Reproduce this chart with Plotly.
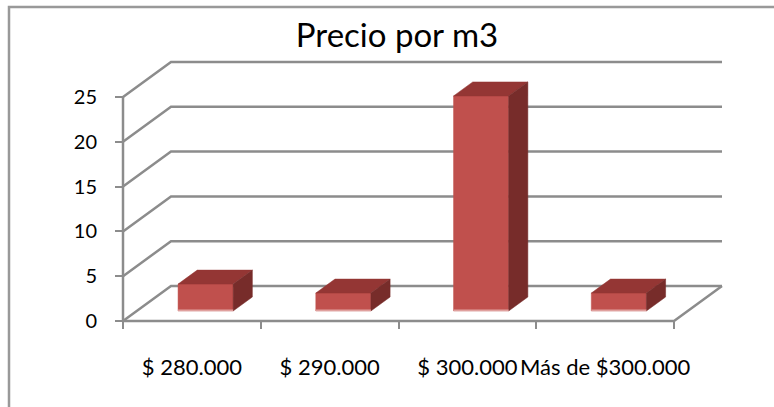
import plotly.graph_objects as go

# ---- data ----
categories = ["$ 280.000", "$ 290.000", "$ 300.000", "Más de $300.000"]
values = [3, 2, 24, 2]
y_ticks = [0, 5, 10, 15, 20, 25]
title_text = "Precio por m3"

# ---- style / projection constants ----
W, H = 774, 407
PX_X = 137.75          # px per category
PX_Y = 8.96            # px per value unit
X0_PX, Y0_PX = 123, 321
DX = 48 / PX_X         # depth offset (category units)
DY = 35 / PX_Y         # depth offset (value units)
F0, F1 = 0.286, 0.686  # bar front/back depth fractions
BW = 0.4               # bar width (category units)
GRID = "#8c8c8c"
FRONT, TOP, SIDE, EDGE = "#C0504D", "#943634", "#772C2A", "#E0A09E"
FONT = "Lato"

n = len(categories)
xl, xr = -0.5, n - 0.5
ymax = y_ticks[-1]

fig = go.Figure()

def line(xs, ys, color=GRID, width=2.5):
    fig.add_trace(go.Scatter(x=xs, y=ys, mode="lines", hoverinfo="skip",
                             line=dict(color=color, width=width), showlegend=False))

def poly(xs, ys, color):
    fig.add_trace(go.Scatter(x=xs + [xs[0]], y=ys + [ys[0]], mode="lines", fill="toself",
                             fillcolor=color, line=dict(color=color, width=0.5),
                             hoverinfo="skip", showlegend=False))

# side-wall diagonals and back-wall gridlines
for v in y_ticks:
    line([xl, xl + DX, xr + DX], [v, v + DY, v + DY])
# floor edges
line([xl, xr, xr + DX], [0, 0, DY])
# front vertical axis
line([xl, xl], [0, ymax])

# bars
for i, v in enumerate(values):
    fx0 = i - BW / 2 + F0 * DX
    fx1 = i + BW / 2 + F0 * DX
    by = F0 * DY
    ddx = (F1 - F0) * DX
    ddy = (F1 - F0) * DY
    # front face
    poly([fx0, fx1, fx1, fx0], [by, by, by + v, by + v], FRONT)
    # top face
    poly([fx0, fx1, fx1 + ddx, fx0 + ddx], [by + v, by + v, by + v + ddy, by + v + ddy], TOP)
    # side face
    poly([fx1, fx1 + ddx, fx1 + ddx, fx1], [by, by + ddy, by + v + ddy, by + v], SIDE)
    # light bottom edge
    line([fx0, fx1], [by + 0.08, by + 0.08], color=EDGE, width=1.5)

x_range = [xl - X0_PX / PX_X, xl + (W - X0_PX) / PX_X]
y_range = [-(H - Y0_PX) / PX_Y, Y0_PX / PX_Y]

fig.update_layout(
    width=W, height=H, autosize=False,
    margin=dict(l=0, r=0, t=0, b=0),
    paper_bgcolor="white", plot_bgcolor="white",
    showlegend=False,
    title=dict(text=title_text, x=397 / W, y=1 - 35 / H, xanchor="center", yanchor="middle",
               font=dict(family=FONT, size=33, color="black")),
    font=dict(family=FONT, color="black"),
    xaxis=dict(range=x_range, anchor="free", position=(H - Y0_PX) / H,
               tickmode="array", tickvals=list(range(n)), ticktext=categories,
               ticks="", showgrid=False, zeroline=False, showline=False,
               ticklabelstandoff=31, tickfont=dict(size=22, family=FONT),
               minor=dict(tickmode="array", tickvals=[k - 0.5 for k in range(n + 1)],
                          ticks="outside", ticklen=7, tickwidth=2, tickcolor=GRID,
                          showgrid=False),
               fixedrange=True, automargin=False),
    yaxis=dict(range=y_range, anchor="free", position=X0_PX / W,
               tickmode="array", tickvals=y_ticks,
               ticks="outside", ticklen=8, tickwidth=2, tickcolor=GRID,
               showgrid=False, zeroline=False, showline=False,
               ticklabelstandoff=14, tickfont=dict(size=20, family=FONT),
               fixedrange=True, automargin=False),
    shapes=[dict(type="rect", xref="paper", yref="paper",
                 x0=9 / W, x1=1.2, y0=-0.2, y1=1 - 7 / H,
                 line=dict(color="#999999", width=2.5), layer="below")],
)

fig.write_html("out.html")
